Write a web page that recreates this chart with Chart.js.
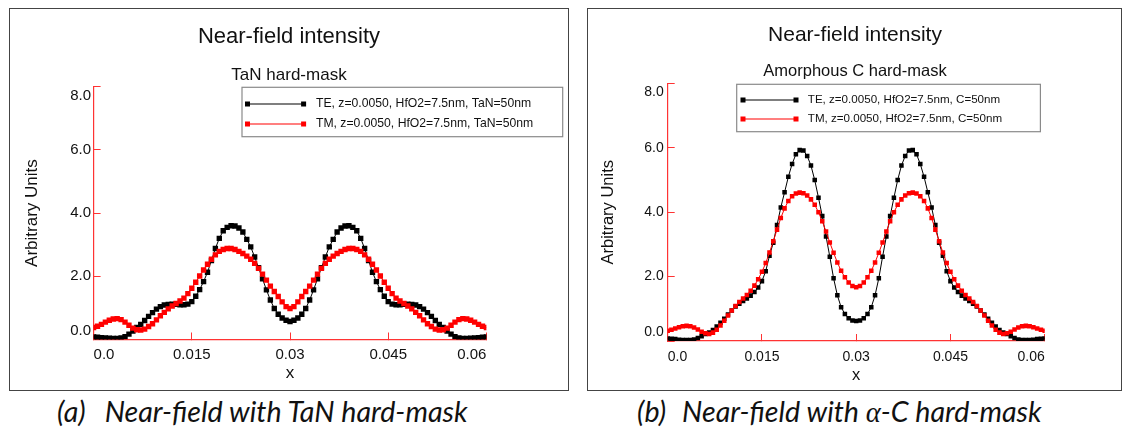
<!DOCTYPE html>
<html>
<head>
<meta charset="utf-8">
<script src="https://cdn.jsdelivr.net/npm/chart.js@4.4.1/dist/chart.umd.min.js"></script>
<style>
  html, body { margin: 0; padding: 0; background: #fff; }
  body { width: 1123px; height: 428px; position: relative; overflow: hidden; }
  .frame { position: absolute; border: 1.5px solid #444; box-sizing: border-box; }
  canvas { position: absolute; }
  .caption { position: absolute; font-family: Lato, "Open Sans", sans-serif; font-style: italic; font-weight: 400;
             font-size: 28.6px; line-height: 34px; color: #111; white-space: nowrap; }
  .caption .gap { display: inline-block; }
  .caption .alpha { font-family: "Liberation Serif", serif; font-style: italic; font-weight: 400; }
</style>
</head>
<body>
<div class="frame" style="left:9px; top:8px; width:560px; height:383px"></div>
<div class="frame" style="left:587px; top:8px; width:535px; height:383px"></div>
<canvas id="chartTaN" width="558" height="381" style="left:10px; top:9px"></canvas>
<canvas id="chartC" width="532" height="381" style="left:589px; top:9px"></canvas>
<div class="caption" style="left:57px; top:394px">(a)<span class="gap" style="width:19px"></span>Near-field with TaN hard-mask</div>
<div class="caption" style="left:637px; top:394px">(b)<span class="gap" style="width:16px"></span>Near-field with <span class="alpha">α</span>-C hard-mask</div>
<script>
// sample positions along x
var xValues = [0, 0.0006, 0.0012, 0.0018, 0.0024, 0.003, 0.0036, 0.0042, 0.0048, 0.0054,
  0.006, 0.0066, 0.0072, 0.0078, 0.0084, 0.009, 0.0096, 0.0102, 0.0108, 0.0114,
  0.012, 0.0126, 0.0132, 0.0138, 0.0144, 0.015, 0.0156, 0.0162, 0.0168, 0.0174,
  0.018, 0.0186, 0.0192, 0.0198, 0.0204, 0.021, 0.0216, 0.0222, 0.0228, 0.0234,
  0.024, 0.0246, 0.0252, 0.0258, 0.0264, 0.027, 0.0276, 0.0282, 0.0288, 0.0294,
  0.03, 0.0306, 0.0312, 0.0318, 0.0324, 0.033, 0.0336, 0.0342, 0.0348, 0.0354,
  0.036, 0.0366, 0.0372, 0.0378, 0.0384, 0.039, 0.0396, 0.0402, 0.0408, 0.0414,
  0.042, 0.0426, 0.0432, 0.0438, 0.0444, 0.045, 0.0456, 0.0462, 0.0468, 0.0474,
  0.048, 0.0486, 0.0492, 0.0498, 0.0504, 0.051, 0.0516, 0.0522, 0.0528, 0.0534,
  0.054, 0.0546, 0.0552, 0.0558, 0.0564, 0.057, 0.0576, 0.0582, 0.0588, 0.0594, 0.06];

// (a) TaN hard-mask
var teTaN = [0.08, 0.07, 0.06, 0.05, 0.04, 0.03, 0.03, 0.05, 0.09, 0.17,
  0.27, 0.38, 0.48, 0.60, 0.73, 0.85, 0.96, 1.04, 1.09, 1.11,
  1.12, 1.11, 1.10, 1.10, 1.12, 1.20, 1.37, 1.58, 1.83, 2.13,
  2.50, 2.88, 3.20, 3.44, 3.55, 3.60, 3.59, 3.53, 3.40, 3.17,
  2.93, 2.61, 2.27, 1.92, 1.57, 1.25, 0.98, 0.80, 0.68, 0.61,
  0.57,
  0.61, 0.68, 0.80, 0.98, 1.25, 1.57, 1.92, 2.27, 2.61, 2.93,
  3.17, 3.40, 3.53, 3.59, 3.60, 3.55, 3.44, 3.20, 2.88, 2.50,
  2.13, 1.83, 1.58, 1.37, 1.20, 1.12, 1.10, 1.10, 1.11, 1.12,
  1.11, 1.09, 1.04, 0.96, 0.85, 0.73, 0.60, 0.48, 0.38, 0.27,
  0.17, 0.09, 0.05, 0.03, 0.03, 0.04, 0.05, 0.06, 0.07, 0.08];
var tmTaN = [0.38, 0.42, 0.48, 0.55, 0.61, 0.65, 0.66, 0.63, 0.55, 0.45,
  0.36, 0.31, 0.30, 0.33, 0.41, 0.50, 0.62, 0.75, 0.86, 0.97,
  1.06, 1.14, 1.22, 1.31, 1.45, 1.62, 1.81, 2.01, 2.20, 2.38,
  2.54, 2.68, 2.79, 2.85, 2.88, 2.88, 2.85, 2.79, 2.72, 2.64,
  2.54, 2.41, 2.25, 2.07, 1.88, 1.69, 1.52, 1.36, 1.19, 1.04,
  0.98,
  1.04, 1.19, 1.36, 1.52, 1.69, 1.88, 2.07, 2.25, 2.41, 2.54,
  2.64, 2.72, 2.79, 2.85, 2.88, 2.88, 2.85, 2.79, 2.68, 2.54,
  2.38, 2.20, 2.01, 1.81, 1.62, 1.45, 1.31, 1.22, 1.14, 1.06,
  0.97, 0.86, 0.75, 0.62, 0.50, 0.41, 0.33, 0.30, 0.31, 0.36,
  0.45, 0.55, 0.63, 0.66, 0.65, 0.61, 0.55, 0.48, 0.42, 0.38];

// (b) amorphous C hard-mask
var teCarbon = [0.08, 0.07, 0.06, 0.04, 0.03, 0.03, 0.03, 0.05, 0.09, 0.15,
  0.22, 0.26, 0.34, 0.45, 0.57, 0.69, 0.82, 0.95, 1.07, 1.16,
  1.24, 1.32, 1.41, 1.52, 1.66, 1.86, 2.17, 2.65, 3.05, 3.60,
  4.15, 4.62, 5.10, 5.50, 5.80, 5.93, 5.92, 5.75, 5.45, 5.00,
  4.45, 3.88, 3.25, 2.62, 1.95, 1.42, 1.05, 0.84, 0.71, 0.64,
  0.62,
  0.64, 0.71, 0.84, 1.05, 1.42, 1.95, 2.62, 3.25, 3.88, 4.45,
  5.00, 5.45, 5.75, 5.92, 5.93, 5.80, 5.50, 5.10, 4.62, 4.15,
  3.60, 3.05, 2.65, 2.17, 1.86, 1.66, 1.52, 1.41, 1.32, 1.24,
  1.16, 1.07, 0.95, 0.82, 0.69, 0.57, 0.45, 0.34, 0.26, 0.22,
  0.15, 0.09, 0.05, 0.03, 0.03, 0.03, 0.04, 0.06, 0.07, 0.08];
var tmCarbon = [0.32, 0.35, 0.39, 0.43, 0.46, 0.47, 0.46, 0.42, 0.36, 0.29,
  0.24, 0.22, 0.26, 0.35, 0.48, 0.63, 0.79, 0.95, 1.09, 1.21,
  1.32, 1.43, 1.56, 1.72, 1.92, 2.15, 2.42, 2.75, 3.10, 3.46,
  3.82, 4.12, 4.35, 4.50, 4.58, 4.61, 4.59, 4.52, 4.40, 4.23,
  4.00, 3.72, 3.40, 3.06, 2.74, 2.44, 2.18, 1.98, 1.82, 1.71,
  1.67,
  1.71, 1.82, 1.98, 2.18, 2.44, 2.74, 3.06, 3.40, 3.72, 4.00,
  4.23, 4.40, 4.52, 4.59, 4.61, 4.58, 4.50, 4.35, 4.12, 3.82,
  3.46, 3.10, 2.75, 2.42, 2.15, 1.92, 1.72, 1.56, 1.43, 1.32,
  1.21, 1.09, 0.95, 0.79, 0.63, 0.48, 0.35, 0.26, 0.22, 0.24,
  0.29, 0.36, 0.42, 0.46, 0.47, 0.46, 0.43, 0.39, 0.35, 0.32];

var xTicks = [0, 0.015, 0.03, 0.045, 0.06];
var xTickLabels = ['0.0', '0.015', '0.03', '0.045', '0.06'];
var yTicks = [0, 2, 4, 6, 8];
var yTickLabels = ['0.0', '2.0', '4.0', '6.0', '8.0'];

Chart.defaults.font.family = '"Liberation Sans", Arial, sans-serif';
Chart.defaults.color = '#111';

var AXIS_RED = '#ff3333';

// boxed legend drawn inside the panel, like the original plot software does
var legendBox = {
  id: 'legendBox',
  afterDraw: function (chart, args, o) {
    var ctx = chart.ctx;
    ctx.save();
    ctx.fillStyle = '#fff';
    ctx.fillRect(o.left, o.top, o.width, o.height);
    ctx.strokeStyle = '#8a8a8a';
    ctx.lineWidth = 1.2;
    ctx.strokeRect(o.left, o.top, o.width, o.height);
    ctx.font = o.fontSize + 'px "Liberation Sans", Arial, sans-serif';
    ctx.textBaseline = 'middle';
    chart.data.datasets.forEach(function (ds, i) {
      var y = o.rows[i];
      ctx.strokeStyle = ds.borderColor;
      ctx.lineWidth = 1.2;
      ctx.beginPath();
      ctx.moveTo(o.lineX[0], y);
      ctx.lineTo(o.lineX[1], y);
      ctx.stroke();
      ctx.fillStyle = ds.pointBackgroundColor;
      o.lineX.forEach(function (x) { ctx.fillRect(x - 2.5, y - 2.5, 5, 5); });
      ctx.fillStyle = '#111';
      ctx.fillText(ds.label, o.textX, y);
    });
    ctx.restore();
  }
};

function makeChart(id, p) {
  var edgeLabel = function (labels) {
    return function (value, index, ticks) {
      var s = labels[index];
      // keep the end labels inside the axis span
      if (index === 0) return [s, ''];
      if (index === ticks.length - 1) return ['', s];
      return s;
    };
  };

  return new Chart(document.getElementById(id), {
    type: 'line',
    data: {
      labels: xValues,
      datasets: [{
        label: p.teLabel,
        data: p.te,
        borderColor: '#000',
        backgroundColor: '#000',
        pointBackgroundColor: '#000',
        borderWidth: 1,
        pointStyle: 'rect',
        pointRadius: p.pointRadius,
        pointBorderWidth: 0,
        order: 1
      }, {
        label: p.tmLabel,
        data: p.tm,
        borderColor: '#ff0000',
        backgroundColor: '#ff0000',
        pointBackgroundColor: '#ff0000',
        borderWidth: 1,
        pointStyle: 'rect',
        pointRadius: p.pointRadius,
        pointBorderWidth: 0,
        order: 0
      }]
    },
    options: {
      responsive: false,
      animation: false,
      devicePixelRatio: 1,
      layout: { padding: 0 },
      plugins: {
        legend: { display: false },
        tooltip: { enabled: false },
        title: {
          display: true,
          text: 'Near-field intensity',
          color: '#111',
          font: { size: p.titleSize, weight: 'normal' },
          padding: { top: p.titleTop, bottom: p.titleBottom }
        },
        subtitle: {
          display: true,
          text: p.subtitle,
          color: '#111',
          font: { size: p.subSize },
          padding: { top: p.subTop, bottom: p.subBottom }
        },
        legendBox: p.legend
      },
      scales: {
        x: {
          type: 'linear',
          min: 0,
          max: 0.06,
          afterBuildTicks: function (s) { s.ticks = xTicks.map(function (v) { return { value: v }; }); },
          afterFit: function (s) { s.height = p.xHeight; },
          ticks: {
            callback: function (v, i) { return xTickLabels[i]; },
            align: 'inner',
            autoSkip: false,
            maxRotation: 0,
            padding: p.xTickPad,
            font: { size: p.tickSize }
          },
          grid: { drawOnChartArea: false, tickLength: -7, tickColor: AXIS_RED },
          border: { color: AXIS_RED, width: 1.2 },
          title: { display: true, text: 'x', font: { size: p.axisTitleSize }, padding: { top: 0, bottom: p.xTitlePad } }
        },
        y: {
          min: 0,
          max: 8,
          afterBuildTicks: function (s) { s.ticks = yTicks.map(function (v) { return { value: v }; }); },
          afterFit: function (s) { s.width = p.yWidth; },
          ticks: {
            callback: edgeLabel(yTickLabels),
            padding: p.yTickPad,
            font: { size: p.tickSize }
          },
          grid: { drawOnChartArea: false, tickLength: -7, tickColor: AXIS_RED },
          border: { color: AXIS_RED, width: 1.2 },
          title: { display: true, text: 'Arbitrary Units', font: { size: p.axisTitleSize }, padding: { top: p.yTitlePad, bottom: 0 } }
        },
        // empty axis that only reserves the space right of the plot
        yR: {
          position: 'right',
          ticks: { display: false },
          grid: { display: false },
          border: { display: false },
          afterFit: function (s) { s.width = p.rightGap; }
        }
      }
    },
    plugins: [legendBox]
  });
}

makeChart('chartTaN', {
  te: teTaN,
  tm: tmTaN,
  teLabel: 'TE, z=0.0050, HfO2=7.5nm, TaN=50nm',
  tmLabel: 'TM, z=0.0050, HfO2=7.5nm, TaN=50nm',
  subtitle: 'TaN hard-mask',
  pointRadius: 3.8,
  titleSize: 22, titleTop: 14.8, titleBottom: 7.3,
  subSize: 17, subTop: 7.3, subBottom: 1.5,
  tickSize: 15, axisTitleSize: 17,
  xHeight: 50.5, xTickPad: 13.5, xTitlePad: 6.8,
  yWidth: 83.6, yTickPad: 9.5, yTitlePad: 11.8,
  rightGap: 81.6,
  legend: { left: 232, top: 78.3, width: 320.7, height: 49.4, rows: [95, 115],
            lineX: [237.5, 293.6], textX: 306, fontSize: 12.2 }
});

makeChart('chartC', {
  te: teCarbon,
  tm: tmCarbon,
  teLabel: 'TE, z=0.0050, HfO2=7.5nm, C=50nm',
  tmLabel: 'TM, z=0.0050, HfO2=7.5nm, C=50nm',
  subtitle: 'Amorphous C hard-mask',
  pointRadius: 3.2,
  titleSize: 21, titleTop: 13.4, titleBottom: 7,
  subSize: 16.5, subTop: 7.2, subBottom: 1.9,
  tickSize: 14, axisTitleSize: 16.5,
  xHeight: 49, xTickPad: 14.3, xTitlePad: 5.1,
  yWidth: 78.7, yTickPad: 11, yTitlePad: 9.6,
  rightGap: 76.3,
  legend: { left: 147.7, top: 75.3, width: 303.7, height: 47.4, rows: [91, 110],
            lineX: [154, 207], textX: 218.8, fontSize: 11.6 }
});
</script>
</body>
</html>
